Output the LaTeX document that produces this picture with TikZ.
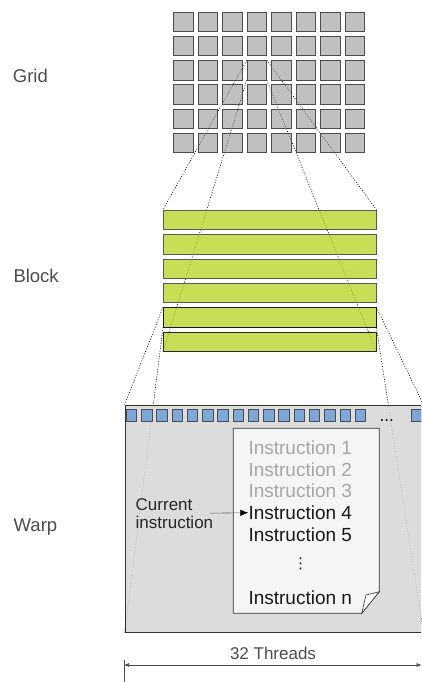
\documentclass[tikz,border=0pt]{standalone}
\usepackage{fontspec}
\setmainfont{Liberation Sans}
\newfontfamily\symfont{DejaVu Sans}
\usetikzlibrary{arrows.meta,backgrounds}

\definecolor{cellgray}{RGB}{140,140,140}
\definecolor{bandgreen}{RGB}{182,211,30}
\definecolor{lanegray}{RGB}{214,214,214}
\definecolor{threadblue}{RGB}{125,167,216}
\definecolor{pagewhite}{RGB}{245,245,245}

\tikzset{
  cell/.style={rectangle, draw=black!70, fill=cellgray, fill opacity=0.55,
    minimum width=19.5pt, minimum height=19.3pt, inner sep=0pt, line width=0.7pt},
  band/.style={rectangle, draw=black!65, fill=bandgreen, fill opacity=0.75,
    minimum width=212.7pt, minimum height=19.5pt, inner sep=0pt, line width=0.7pt},
  thread/.style={rectangle, draw=black!70, fill=threadblue,
    minimum width=10.5pt, minimum height=12.5pt, inner sep=0pt, line width=0.6pt},
  link/.style={black, line width=0.6pt, dash pattern=on 1pt off 1.6pt},
  lvl/.style={anchor=base west, inner sep=0pt, text=black!70,
    font=\fontsize{18.5}{20}\selectfont},
  instr/.style={anchor=base west, inner sep=0pt, font=\fontsize{19}{21}\selectfont},
}

\begin{document}
\begin{tikzpicture}[x=1pt, y=-1pt]
        \useasboundingbox (0,0) rectangle (421,682);
        \clip (0,0) rectangle (421,682);

        % grid of blocks
        \foreach \r in {0,...,5}
            \foreach \c in {0,...,7}
                \node[cell] (G-\r-\c) at (183.3+24.5*\c, 21.9+24.2*\r) {};

        % blocks split in warps
        \foreach \k in {1,...,6}
            \node[band] (B\k) at (269.7, 195.4+24.4*\k) {};
        \node[band, draw=black!90, fill=none] at (B5) {};
        \node[band, draw=black!85, fill=none] at (B6) {};

        \node[rectangle,
        draw=black!80,
        line width=0.8pt,
        fill=lanegray,
        fill opacity=0.85,
        minimum width=298pt,
        minimum height=227pt,
        inner sep=0pt,
        ] (W) at (274,518.5) {};

        % threads of the warp
        \foreach \i in {0,...,15}
            \node[thread] (T\i) at (131.3+15.27*\i, 415.3) {};
        \node[thread] (Tn) at (416.3,415.3) {};
        \node[anchor=base, inner sep=0pt, font=\fontsize{17}{18}\selectfont] (D) at (386.7,421) {...};

        \node[lvl] (LG) at (12.7,83) {Grid};
        \node[lvl] (LB) at (13.3,282) {Block};
        \node[lvl] (LW) at (13.5,531) {Warp};

        % instruction page
        \draw[draw=black!80, fill=pagewhite, line width=0.7pt]
            (233.3,428.3) -- (379.3,428.3) -- (379.3,591.7) -- (361.7,613.3) -- (233.3,613.3) -- cycle;
        \draw[draw=black!80, fill=white, line width=0.6pt]
            (361.7,613.3) -- (366,595) -- (379.3,591.7) -- cycle;

        \node[instr, text=black!35] (I1) at (248.3,454.4) {Instruction 1};
        \node[instr, text=black!35] (I2) at (248.3,476.1) {Instruction 2};
        \node[instr, text=black!35] (I3) at (248.3,497.8) {Instruction 3};
        \node[instr, text=black!90] (I4) at (248.3,519.5) {Instruction 4};
        \node[instr, text=black!90] (I5) at (248.3,541.2) {Instruction 5};
        \node[inner sep=0pt, text=black!90, font=\symfont\fontsize{15}{16}\selectfont] (V) at (300.7,564) {⋮};
        \node[instr, text=black!90] (In) at (248.3,604.5) {Instruction n};

        \node[align=left,
        anchor=west,
        inner sep=0pt,
        text=black!85,
        font=\fontsize{17}{18}\selectfont,
        ] (C) at (135.5,513.2) {Current\\instruction};
        \draw[-{Latex[length=8pt,width=6.5pt,black]}, black!60, line width=0.6pt] ([xshift=-3.5pt]C.east) -- (I4.west);

        % width of the warp
        \node[inner sep=0pt, text=black!70, font=\fontsize{17}{18}\selectfont] (N) at (273,653.3) {32 Threads};
        \coordinate (L) at (124,665);
        \coordinate (R) at (421.5,665);
        \draw[{Latex[length=5pt,width=4pt]}-{Latex[length=5pt,width=4pt]}, black!70, line width=0.6pt] (L) -- (R);
        \draw[black!70, line width=0.8pt] ([yshift=5pt]L) -- ([yshift=-17pt]L);

        \begin{pgfonlayer}{background}
        \draw[link] (G-2-3.north west) -- (B1.north west);
        \draw[link] (G-2-3.north east) -- (B1.north east);
        \draw[link] (G-2-3.south west) -- (B6.south west);
        \draw[link] (G-2-3.south east) -- (B6.south east);
        \draw[link] (B5.north west) -- (W.north west);
        \draw[link] (B5.north east) -- (W.north east);
        \draw[link] (B5.south west) -- (W.south west);
        \draw[link] (B5.south east) -- (W.south east);
        \end{pgfonlayer}
    \end{tikzpicture}
\end{document}
